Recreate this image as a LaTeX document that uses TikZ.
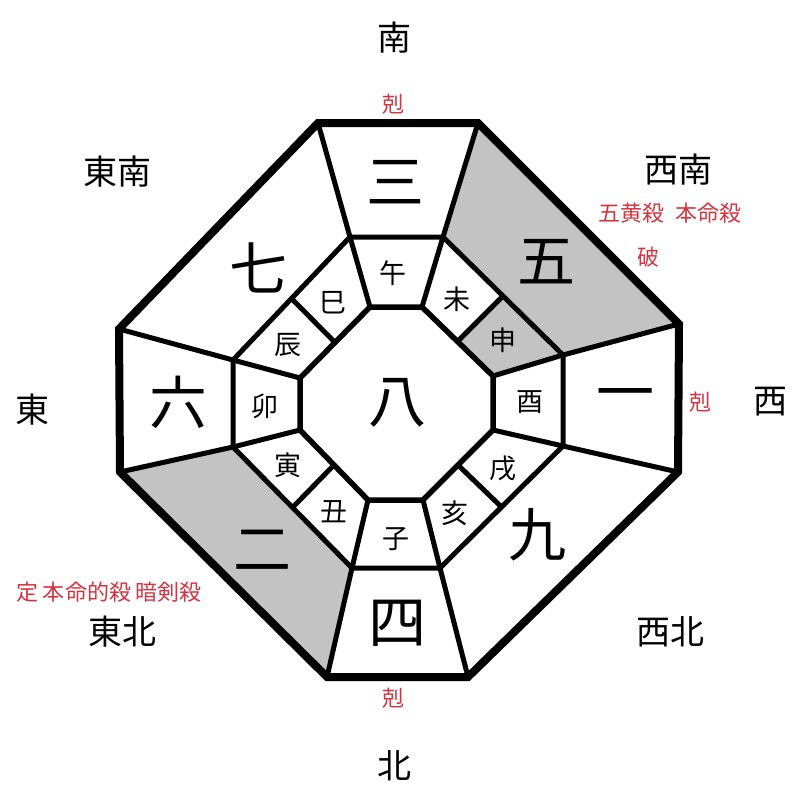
\documentclass[tikz,border=0pt]{standalone}
\usepackage{fontspec}
\newfontfamily\cjk{Noto Sans CJK JP}
\usetikzlibrary{calc}
\definecolor{redtxt}{RGB}{212,52,64}
\definecolor{graybg}{RGB}{195,195,195}
\tikzset{
  outerline/.style={line width=8pt, line join=miter},
  innerline/.style={line width=5pt},
  octline/.style={line width=5.5pt, line join=miter},
  numtxt/.style={font=\cjk\fontsize{58}{58}\selectfont, inner sep=0pt},
  brtxt/.style={font=\cjk\fontsize{27}{27}\selectfont, inner sep=0pt},
  dirtxt/.style={font=\cjk\fontsize{34}{34}\selectfont, inner sep=0pt},
  redlbl/.style={font=\cjk\fontsize{22}{22}\selectfont, text=redtxt, inner sep=0pt},
}
\begin{document}
\begin{tikzpicture}[x=1pt,y=-1pt]
\useasboundingbox (0,0) rectangle (800,800);
% outer octagon
\coordinate (O1) at (318,123); \coordinate (O2) at (478,123);
\coordinate (O3) at (679,324); \coordinate (O4) at (678,472);
\coordinate (O5) at (468,677); \coordinate (O6) at (327,677);
\coordinate (O7) at (120,472); \coordinate (O8) at (119,329);
% middle ring
\coordinate (M1) at (350,237); \coordinate (M2) at (443,237);
\coordinate (M3) at (563,355); \coordinate (M4) at (563,446);
\coordinate (M5) at (440,568); \coordinate (M6) at (352,568);
\coordinate (M7) at (233,447); \coordinate (M8) at (233,360);
% inner octagon
\coordinate (I1) at (370,307); \coordinate (I2) at (422,307);
\coordinate (I3) at (493,376); \coordinate (I4) at (493,430);
\coordinate (I5) at (423,500); \coordinate (I6) at (368,500);
\coordinate (I7) at (300,430); \coordinate (I8) at (300,378);
% divider midpoints
\coordinate (A1) at ($(M8)!0.5!(M1)$); \coordinate (B1) at ($(I8)!0.5!(I1)$);
\coordinate (A2) at ($(M2)!0.5!(M3)$); \coordinate (B2) at ($(I2)!0.5!(I3)$);
\coordinate (A3) at ($(M4)!0.5!(M5)$); \coordinate (B3) at ($(I4)!0.5!(I5)$);
\coordinate (A4) at ($(M6)!0.5!(M7)$); \coordinate (B4) at ($(I6)!0.5!(I7)$);

% shaded regions
\fill[graybg] (O2) -- (O3) -- (M3) -- (M2) -- cycle;
\fill[graybg] (A2) -- (M3) -- (I3) -- (B2) -- cycle;
\fill[graybg] (O6) -- (O7) -- (M7) -- (M6) -- cycle;

% outer ring spokes
\draw[innerline] (O1) -- (M1) (O2) -- (M2) (O3) -- (M3) (O4) -- (M4)
  (O5) -- (M5) (O6) -- (M6) (O7) -- (M7) (O8) -- (M8);
% middle ring outline
\draw[innerline, line join=miter] (M1) -- (M2) -- (M3) -- (M4) -- (M5) -- (M6) -- (M7) -- (M8) -- cycle;
% inner spokes
\draw[innerline] (M1) -- (I1) (M2) -- (I2) (M3) -- (I3) (M4) -- (I4)
  (M5) -- (I5) (M6) -- (I6) (M7) -- (I7) (M8) -- (I8);
\draw[innerline] (A1) -- (B1) (A2) -- (B2) (A3) -- (B3) (A4) -- (B4);
% inner octagon
\draw[octline] (I1) -- (I2) -- (I3) -- (I4) -- (I5) -- (I6) -- (I7) -- (I8) -- cycle;
% outer octagon
\draw[outerline] (O1) -- (O2) -- (O3) -- (O4) -- (O5) -- (O6) -- (O7) -- (O8) -- cycle;

% numbers
\node[numtxt] (n3) at (395,182) {三};
\node[numtxt] (n5) at (546,262) {五};
\node[numtxt] (n7) at (258,268) {七};
\node[numtxt] (n6) at (178,402) {六};
\node[numtxt] (n1) at (625,401) {一};
\node[numtxt] (n9) at (537,535) {九};
\node[numtxt] (n2) at (262,550) {二};
\node[numtxt] (n4) at (397,623) {四};
\node[numtxt] (n8) at (397,403) {八};

% branches
\node[brtxt] (b1) at (393,273) {午};
\node[brtxt] (b2) at (457,299) {未};
\node[brtxt] (b3) at (333,303) {巳};
\node[brtxt] (b4) at (288,345) {辰};
\node[brtxt] (b5) at (265,406) {卯};
\node[brtxt] (b6) at (288,465) {寅};
\node[brtxt] (b7) at (334,512) {丑};
\node[brtxt] (b8) at (396,539) {子};
\node[brtxt] (b9) at (455,513) {亥};
\node[brtxt] (b10) at (503,468) {戌};
\node[brtxt] (b11) at (530,402) {酉};
\node[brtxt] (b12) at (503,340) {申};

% directions
\node[dirtxt] (dS) at (394,38) {南};
\node[dirtxt] (dSE) at (117,172) {東南};
\node[dirtxt] (dSW) at (678,170) {西南};
\node[dirtxt] (dE) at (32,410) {東};
\node[dirtxt] (dW) at (770,402) {西};
\node[dirtxt] (dNE) at (122,632) {東北};
\node[dirtxt] (dNW) at (670,632) {西北};
\node[dirtxt] (dN) at (394,766) {北};

% red labels
\node[redlbl] (r1) at (393,104) {剋};
\node[redlbl] (r2) at (700,402) {剋};
\node[redlbl] (r3) at (393,698) {剋};
\node[redlbl] (r4) at (670,213) {五黄殺\hspace{0.5em}本命殺};
\node[redlbl] (r5) at (648,257) {破};
\node[redlbl] (r6) at (109,592) {定 本命的殺 暗剣殺};
\end{tikzpicture}
\end{document}
